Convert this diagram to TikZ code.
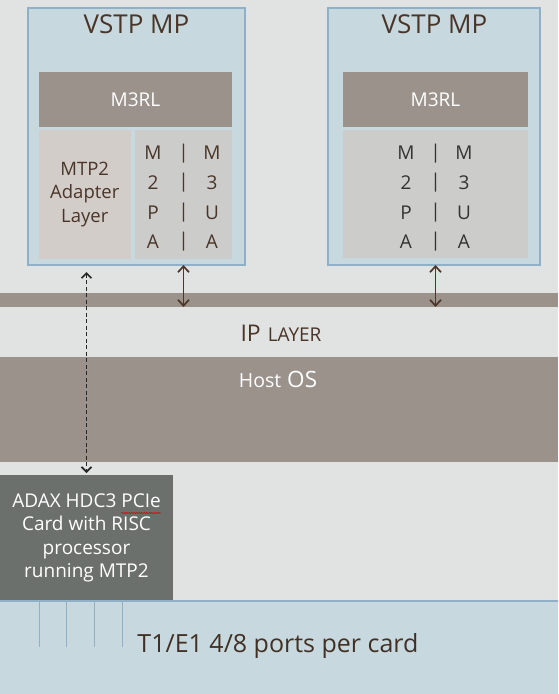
\documentclass[tikz,border=0pt]{standalone}
\usepackage{fontspec}
\setmainfont{Open Sans}
\usetikzlibrary{arrows.meta,decorations.pathmorphing}
\definecolor{bg}{HTML}{E1E3E2}
\definecolor{vblue}{HTML}{C7D9DF}
\definecolor{vborder}{HTML}{8FB0C6}
\definecolor{taupe}{HTML}{9B928C}
\definecolor{adapfill}{HTML}{D3CDCA}
\definecolor{m2pafill}{HTML}{CCCDCA}
\definecolor{adaxfill}{HTML}{6B706D}
\definecolor{tbrown}{HTML}{4A3528}
\definecolor{tdark}{HTML}{333333}
\definecolor{arrbrown}{HTML}{4E3629}
\begin{document}
\begin{tikzpicture}[x=1pt,y=-1pt]
\tikzset{
  rect/.style={inner sep=0pt, outer sep=0pt, anchor=north west, draw=none},
  title/.style={text=tbrown, font=\fontsize{26}{30}\selectfont},
  colbox/.style={text=#1, align=center, inner sep=0pt, font=\fontsize{19}{29.6}\selectfont},
  arr/.style={arrbrown, line width=1.7pt, {Straight Barb[length=6pt,width=11pt]}-{Straight Barb[length=6pt,width=11pt]}},
  darr/.style={black!85, line width=1.6pt, dash pattern=on 4pt off 2.5pt, {Straight Barb[length=5pt,width=10pt]}-{Straight Barb[length=5pt,width=10pt]}},
}
\useasboundingbox (0,0) rectangle (558,694);
\fill[bg] (0,0) rectangle (558,694);

% left VSTP MP
\node[rect, fill=vblue, draw=vborder, line width=1.5pt, minimum width=217pt, minimum height=257pt] (vstpL) at (28,8) {};
\node[title] (titleL) at (136.5,24) {VSTP MP};
\node[rect, fill=taupe, text=white, minimum width=193pt, minimum height=55pt, font=\fontsize{19}{22}\selectfont] (m3rlL) at (39,72) {M3RL};
\node[rect, fill=adapfill, text=tbrown, minimum width=91.5pt, minimum height=129pt, align=center, font=\fontsize{18.5}{23.5}\selectfont] (adapL) at (39,130) {MTP2\\Adapter\\Layer};
\node[rect, fill=m2pafill, minimum width=97pt, minimum height=129pt] (m2paL) at (135,130) {};
\node[colbox=tbrown] (cL1) at (153,197.5) {M\\2\\P\\A};
\node[colbox=tbrown] (cL2) at (183.5,197.5) {|\\|\\|\\|};
\node[colbox=tbrown] (cL3) at (212,197.5) {M\\3\\U\\A};

% right VSTP MP
\node[rect, fill=vblue, draw=vborder, line width=1.5pt, minimum width=212pt, minimum height=257pt] (vstpR) at (328,8) {};
\node[title] (titleR) at (434.5,24) {VSTP MP};
\node[rect, fill=taupe, text=white, minimum width=185pt, minimum height=55pt, font=\fontsize{19}{22}\selectfont] (m3rlR) at (343,72) {M3RL};
\node[rect, fill=m2pafill, minimum width=185pt, minimum height=128pt] (m2paR) at (343,130) {};
\node[colbox=tdark] (cR1) at (406,197.5) {M\\2\\P\\A};
\node[colbox=tdark] (cR2) at (435.5,197.5) {|\\|\\|\\|};
\node[colbox=tdark] (cR3) at (464,197.5) {M\\3\\U\\A};

% IP layer band
\node[rect, fill=taupe, minimum width=558pt, minimum height=14pt] (ipband) at (0,293) {};
\node[text=tbrown, inner sep=0pt] (iptext) at (281,333) {{\fontsize{23}{26}\selectfont IP}\hspace{7pt}{\fontsize{19}{22}\selectfont LAYER}};

% Host OS band
\node[rect, fill=taupe, minimum width=558pt, minimum height=105pt] (hostos) at (0,357) {};
\node[text=white, inner sep=0pt] (hosttext) at (278,379) {{\fontsize{19.5}{24}\selectfont Host}\hspace{6pt}{\fontsize{22.5}{26}\selectfont OS}};

% ADAX card
\node[rect, fill=adaxfill, text=white, minimum width=173pt, minimum height=126pt, align=center, font=\fontsize{19}{23.5}\selectfont] (adax) at (0,475) {ADAX HDC3 PCIe\\Card with RISC\\processor\\running MTP2};
\draw[red!80!black, line width=0.5pt, decorate, decoration={snake, amplitude=0.6pt, segment length=2.5pt}] (121,513) -- (161,513);

% ports region
\node[rect, fill=vblue, minimum width=558pt, minimum height=93pt] (ports) at (0,601) {};
\draw[vborder, line width=1.5pt] (ports.north west) -- (ports.north east);
\foreach \px in {39,66,94,122} {
  \draw[vborder, line width=1pt] (\px,601) -- (\px,647);
}
\node[text=tbrown!90!black, inner sep=0pt, font=\fontsize{25}{30}\selectfont] (t1text) at (278,646) {T1/E1 4/8 ports per card};

% connectors
\draw[arr] (m2paL.south |- vstpL.south) -- (m2paL.south |- ipband.south);
\draw[arr] (m2paR.south |- vstpR.south) -- (m2paR.south |- ipband.south);
\draw[darr] ([yshift=-7pt]adax.north |- vstpL.south) -- ([yshift=2pt]adax.north);
\end{tikzpicture}
\end{document}
